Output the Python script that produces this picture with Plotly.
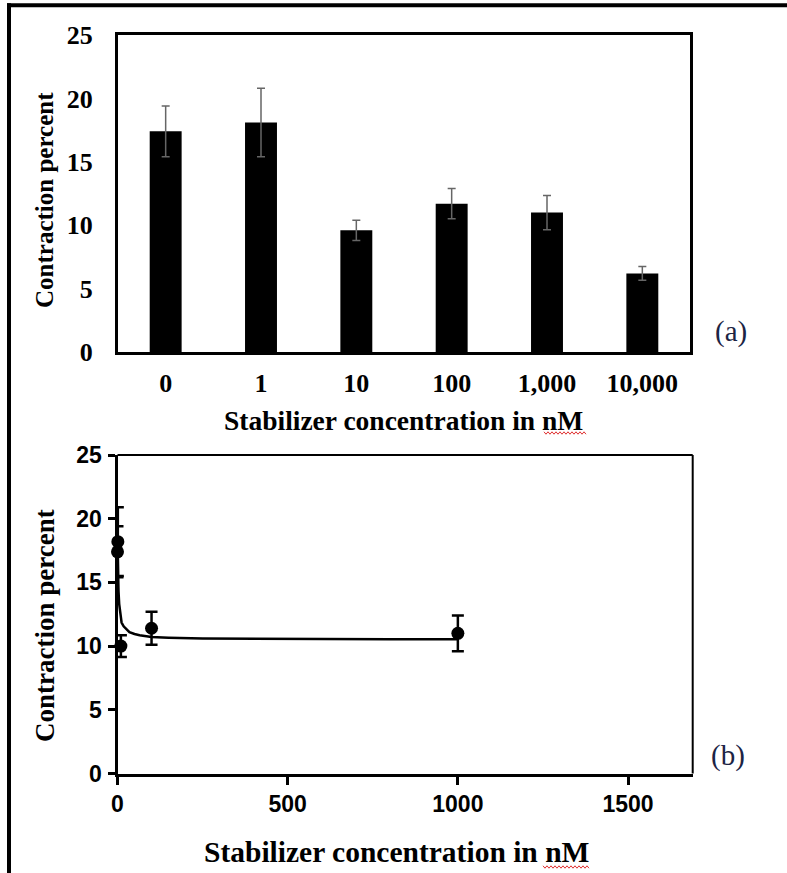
import plotly.graph_objects as go

# Panel (a): contraction per stabilizer dose (bar chart)
dose_labels = ["0", "1", "10", "100", "1,000", "10,000"]
contraction_mean = [17.4, 18.1, 9.6, 11.7, 11.0, 6.2]
contraction_err = [2.0, 2.7, 0.8, 1.2, 1.35, 0.55]

# Panel (b): same measurements on a linear concentration axis, with fitted curve
conc_nm = [0, 1, 10, 100, 1000]
contraction_pts = [17.4, 18.2, 10.0, 11.4, 11.0]
contraction_pts_err = [2.0, 2.7, 0.85, 1.3, 1.4]
fit_x = [0.5, 1, 2, 3, 5, 8, 12, 18, 25, 35, 50, 65, 100, 150, 250, 400, 600, 800, 1000]
fit_y = [17.5, 16.2, 15.0, 14.3, 13.3, 12.5, 11.85, 11.55, 11.35, 11.1, 10.95, 10.85,
         10.72, 10.66, 10.6, 10.57, 10.55, 10.54, 10.53]

W, H = 787, 873
SERIF = "Liberation Serif, Times New Roman, serif"
SANS = "Liberation Sans, Arial, sans-serif"


def px(x):
    return x / W


def py(y):
    return 1 - y / H


fig = go.Figure()

fig.add_trace(go.Bar(
    x=dose_labels, y=contraction_mean,
    marker=dict(color="black", line=dict(width=0)),
    error_y=dict(type="data", array=contraction_err, color="#666666",
                 thickness=1.5, width=4),
    xaxis="x", yaxis="y", showlegend=False,
))

fig.add_trace(go.Scatter(
    x=fit_x, y=fit_y, mode="lines",
    line=dict(color="black", width=2.5),
    xaxis="x2", yaxis="y2", showlegend=False, cliponaxis=False,
))

fig.add_trace(go.Scatter(
    x=conc_nm, y=contraction_pts, mode="markers",
    marker=dict(color="black", size=13, symbol="circle"),
    error_y=dict(type="data", array=contraction_pts_err, color="black",
                 thickness=2.5, width=6),
    xaxis="x2", yaxis="y2", showlegend=False, cliponaxis=False,
))

fig.update_layout(
    width=W, height=H,
    margin=dict(l=0, r=0, t=0, b=0, autoexpand=False),
    paper_bgcolor="white", plot_bgcolor="white",
    bargap=0.665,
    xaxis=dict(
        domain=[px(118), px(690)], anchor="y", automargin=False,
        type="category",
        showline=True, linecolor="black", linewidth=3, mirror=True,
        showgrid=False, zeroline=False, ticks="",
        tickfont=dict(family=SERIF, size=26, color="black", weight="bold"),
        ticklabelstandoff=6,
    ),
    yaxis=dict(
        domain=[py(352), py(35)], anchor="x", automargin=False,
        range=[0, 25], tickvals=[0, 5, 10, 15, 20, 25],
        showline=True, linecolor="black", linewidth=3, mirror=True,
        showgrid=False, zeroline=False, ticks="",
        tickfont=dict(family=SERIF, size=26, color="black", weight="bold"),
        ticklabelstandoff=17,
    ),
    xaxis2=dict(
        domain=[px(117.5), px(692.7)], anchor="y2", automargin=False,
        range=[0, 1690], tickvals=[0, 500, 1000, 1500],
        showline=True, linecolor="black", linewidth=3,
        showgrid=False, zeroline=False,
        ticks="outside", ticklen=8, tickwidth=3, tickcolor="black",
        tickfont=dict(family=SANS, size=23, color="black", weight="bold"),
        ticklabelstandoff=0,
    ),
    yaxis2=dict(
        domain=[py(773.5), py(455)], anchor="x2", automargin=False,
        range=[0, 25], tickvals=[0, 5, 10, 15, 20, 25],
        showline=True, linecolor="black", linewidth=3,
        showgrid=False, zeroline=False,
        ticks="outside", ticklen=7, tickwidth=3, tickcolor="black",
        tickfont=dict(family=SANS, size=23, color="black", weight="bold"),
        ticklabelstandoff=1,
    ),
)

shapes = [
    # outer frame: top and left rules
    dict(type="line", xref="paper", yref="paper", x0=px(7), x1=1.0, y0=py(5.3), y1=py(5.3),
         line=dict(color="black", width=4)),
    dict(type="line", xref="paper", yref="paper", x0=px(9), x1=px(9), y0=py(3.3), y1=0,
         line=dict(color="black", width=4)),
    # thin top and right border of panel (b)
    dict(type="line", xref="x2 domain", yref="y2 domain", x0=0, x1=1, y0=1, y1=1,
         line=dict(color="black", width=2)),
    dict(type="line", xref="x2 domain", yref="y2 domain", x0=1, x1=1, y0=0, y1=1,
         line=dict(color="black", width=2)),
]


def squiggle(x0, x1, y):
    pts = []
    step = 2.0
    n = int((x1 - x0) / step)
    for i in range(n + 1):
        xx = x0 + i * step
        yy = y + (1.2 if i % 2 else -1.2)
        pts.append(f"{px(xx):.5f},{py(yy):.5f}")
    return "M " + " L ".join(pts)


for (sx0, sx1, sy) in [(544, 586, 433), (543, 590, 867)]:
    shapes.append(dict(type="path", xref="paper", yref="paper",
                       path=squiggle(sx0, sx1, sy),
                       line=dict(color="#e03030", width=1)))

fig.update_layout(shapes=shapes)

annotations = [
    dict(text="<b>Stabilizer concentration in nM</b>", x=px(403), y=py(420),
         font=dict(family=SERIF, size=27.5, color="black")),
    dict(text="<b>Contraction percent</b>", x=px(45), y=py(200), textangle=-90,
         font=dict(family=SERIF, size=25, color="black")),
    dict(text="(a)", x=px(731), y=py(331),
         font=dict(family=SERIF, size=29, color="#1c2444")),
    dict(text="<b>Contraction percent</b>", x=px(45), y=py(626), textangle=-90,
         font=dict(family=SERIF, size=27, color="black")),
    dict(text="<b>Stabilizer concentration in nM</b>", x=px(396), y=py(852),
         font=dict(family=SERIF, size=29.5, color="black")),
    dict(text="(b)", x=px(728), y=py(755),
         font=dict(family=SERIF, size=29, color="#1c2444")),
]
for a in annotations:
    a.update(xref="paper", yref="paper", showarrow=False, xanchor="center", yanchor="middle")
fig.update_layout(annotations=annotations)

fig.write_html("out.html")
